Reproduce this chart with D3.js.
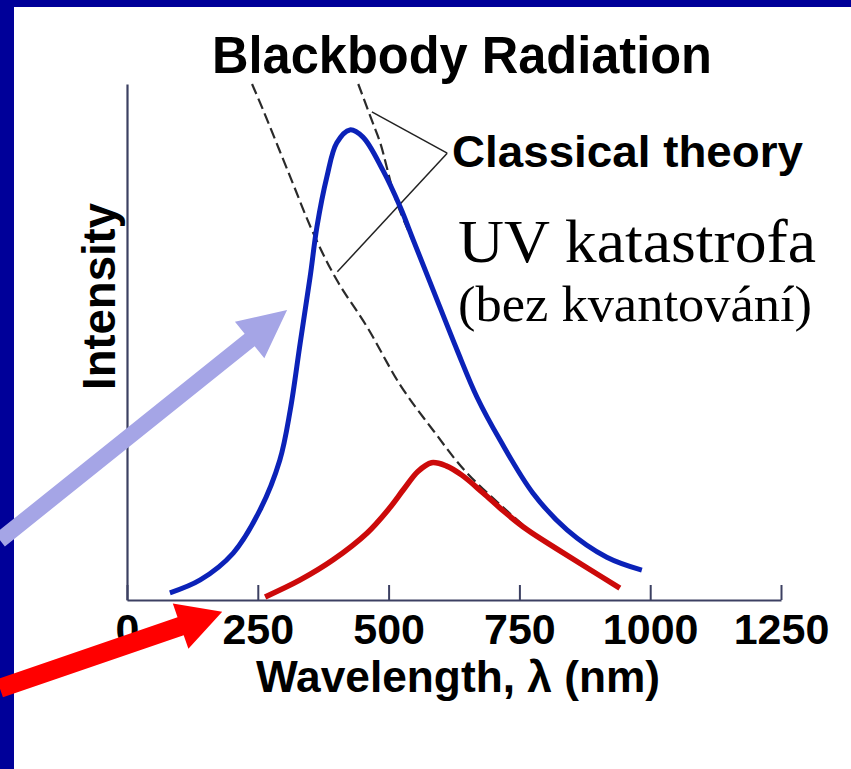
<!DOCTYPE html>
<html>
<head>
<meta charset="utf-8">
<script src="https://cdn.jsdelivr.net/npm/d3@7"></script>
<style>
	body { margin: 0; background: #fff; }
	svg { display: block; }
</style>
</head>
<body>
<div id="chart"></div>
<script>
// wavelength (nm) / intensity (arbitrary, 0-100)
const wavelengthTicks = [0, 250, 500, 750, 1000, 1250];

const hotCurve = [
	[82, 1.4], [140, 3.9], [203, 9.1], [254, 17.4], [292, 27.1], [312, 36.8],
	[331, 49.8], [350, 62.6], [363, 72.3], [382, 82.0], [401, 88.6], [426, 91.1],
	[451, 89.7], [489, 83.3], [522, 76.2], [547, 69.8], [585, 60.1], [631, 48.4],
	[669, 39.3], [713, 31.0], [776, 20.7], [841, 13.6], [917, 8.3], [984, 5.8]
];

const coolCurve = [
	[264, 0.6], [331, 3.9], [394, 7.8], [459, 13.0], [500, 17.6], [530, 21.6],
	[556, 24.9], [582, 26.6], [610, 26.0], [640, 24.2], [680, 20.8], [720, 17.2],
	[765, 13.6], [820, 10.0], [880, 6.2], [942, 2.3]
];

// classical (Rayleigh-Jeans) curves, dashed
const classicalCool = [
	[239, 100], [260, 95], [312, 82], [356, 71.1], [401, 62.0], [459, 52.9],
	[522, 41.7], [585, 32.9], [650, 24.6], [763, 14.0]
];
const classicalHot = [
	[442, 100], [470, 92.4], [484, 88.6], [516, 76.9], [566, 65.3]
];

// "Classical theory" bracket: apex + two ends
const bracketApex = [612, 86.6];
const bracketEnds = [[468, 94.6], [402, 63.6]];

// pointer arrows: [tail, tip]
const purpleArrow = [[-243, 11.6], [306, 56.2]];
const redArrow = [[-243, -17.1], [182, -2.3]];

const width = 851;
const height = 769;

const svg = d3.select("#chart")
	.append("svg")
	.attr("width", width)
	.attr("height", height);

svg.append("rect").attr("width", width).attr("height", height).attr("fill", "#fff");

const x = d3.scaleLinear().domain([0, 1250]).range([127, 781]);
const y = d3.scaleLinear().domain([0, 100]).range([600, 84]);

const sans = "'Liberation Sans', Arial, Helvetica, sans-serif";
const serif = "'Liberation Serif', 'Times New Roman', serif";

// axes
const xAxis = d3.axisBottom(x)
	.tickValues(wavelengthTicks)
	.tickSize(-15)
	.tickSizeOuter(0)
	.tickPadding(13)
	.tickFormat(d3.format("d"));

const gx = svg.append("g")
	.attr("transform", `translate(0, ${y(0)})`)
	.call(xAxis);
gx.select(".domain").attr("stroke", "#3c4062").attr("stroke-width", 2.2);
gx.selectAll(".tick line").attr("stroke", "#3c4062").attr("stroke-width", 2);
gx.selectAll(".tick text")
	.attr("fill", "#000")
	.attr("dy", "0.72em")
	.style("font-family", sans)
	.style("font-weight", "bold")
	.style("font-size", "43px");

const gy = svg.append("g")
	.attr("transform", `translate(${x(0)}, 0)`)
	.call(d3.axisLeft(y).tickValues([]).tickSizeOuter(0));
gy.select(".domain").attr("stroke", "#3c4062").attr("stroke-width", 2.2);

// texts
svg.append("text")
	.attr("x", 212).attr("y", 73)
	.attr("textLength", 500).attr("lengthAdjust", "spacingAndGlyphs")
	.style("font-family", sans).style("font-weight", "bold").style("font-size", "51px")
	.text("Blackbody Radiation");

svg.append("text")
	.attr("x", 256).attr("y", 692)
	.attr("textLength", 404).attr("lengthAdjust", "spacingAndGlyphs")
	.style("font-family", sans).style("font-weight", "bold").style("font-size", "44px")
	.text("Wavelength, λ (nm)");

svg.append("text")
	.attr("transform", "translate(115, 390) rotate(-90)")
	.attr("textLength", 187).attr("lengthAdjust", "spacingAndGlyphs")
	.style("font-family", sans).style("font-weight", "bold").style("font-size", "46px")
	.text("Intensity");

svg.append("text")
	.attr("x", 452).attr("y", 167)
	.attr("textLength", 351).attr("lengthAdjust", "spacingAndGlyphs")
	.style("font-family", sans).style("font-weight", "bold").style("font-size", "45px")
	.text("Classical theory");

svg.append("text")
	.attr("x", 458).attr("y", 262)
	.attr("textLength", 358).attr("lengthAdjust", "spacingAndGlyphs")
	.style("font-family", serif).style("font-size", "62px")
	.text("UV katastrofa");

svg.append("text")
	.attr("x", 458).attr("y", 321)
	.attr("textLength", 354).attr("lengthAdjust", "spacingAndGlyphs")
	.style("font-family", serif).style("font-size", "51px")
	.text("(bez kvantování)");

// curves
const line = d3.line()
	.x((d) => x(d[0]))
	.y((d) => y(d[1]))
	.curve(d3.curveCatmullRom.alpha(0.5));

[classicalCool, classicalHot].forEach((data) => {
	svg.append("path")
		.datum(data)
		.attr("d", line)
		.attr("fill", "none")
		.attr("stroke", "#2a2a2a")
		.attr("stroke-width", 2.2)
		.attr("stroke-dasharray", "11,5");
});

// bracket lines
bracketEnds.forEach((end) => {
	svg.append("line")
		.attr("x1", x(bracketApex[0])).attr("y1", y(bracketApex[1]))
		.attr("x2", x(end[0])).attr("y2", y(end[1]))
		.attr("stroke", "#222")
		.attr("stroke-width", 1.5);
});

svg.append("path")
	.datum(coolCurve)
	.attr("d", line)
	.attr("fill", "none")
	.attr("stroke", "#cc0a0a")
	.attr("stroke-width", 5.5)
	.attr("stroke-linecap", "butt");

svg.append("path")
	.datum(hotCurve)
	.attr("d", line)
	.attr("fill", "none")
	.attr("stroke", "#0b22b8")
	.attr("stroke-width", 5)
	.attr("stroke-linecap", "butt");

// slide border
svg.append("rect").attr("x", 0).attr("y", 0).attr("width", width).attr("height", 7).attr("fill", "#000099");
svg.append("rect").attr("x", 0).attr("y", 0).attr("width", 14).attr("height", height).attr("fill", "#000099");

// arrows
function arrowPath(tail, tip, shaft, headW, headL) {
	const x0 = x(tail[0]), y0 = y(tail[1]);
	const x1 = x(tip[0]), y1 = y(tip[1]);
	const len = Math.hypot(x1 - x0, y1 - y0);
	const ux = (x1 - x0) / len, uy = (y1 - y0) / len;
	const px = -uy, py = ux;
	const bx = x1 - ux * headL, by = y1 - uy * headL;
	const p = d3.path();
	p.moveTo(x0 + px * shaft / 2, y0 + py * shaft / 2);
	p.lineTo(bx + px * shaft / 2, by + py * shaft / 2);
	p.lineTo(bx + px * headW / 2, by + py * headW / 2);
	p.lineTo(x1, y1);
	p.lineTo(bx - px * headW / 2, by - py * headW / 2);
	p.lineTo(bx - px * shaft / 2, by - py * shaft / 2);
	p.lineTo(x0 - px * shaft / 2, y0 - py * shaft / 2);
	p.closePath();
	return p.toString();
}

svg.append("path")
	.attr("d", arrowPath(purpleArrow[0], purpleArrow[1], 16, 47, 48))
	.attr("fill", "#a5a5e6");

svg.append("path")
	.attr("d", arrowPath(redArrow[0], redArrow[1], 19, 48, 44))
	.attr("fill", "#ff0000");
</script>
</body>
</html>
